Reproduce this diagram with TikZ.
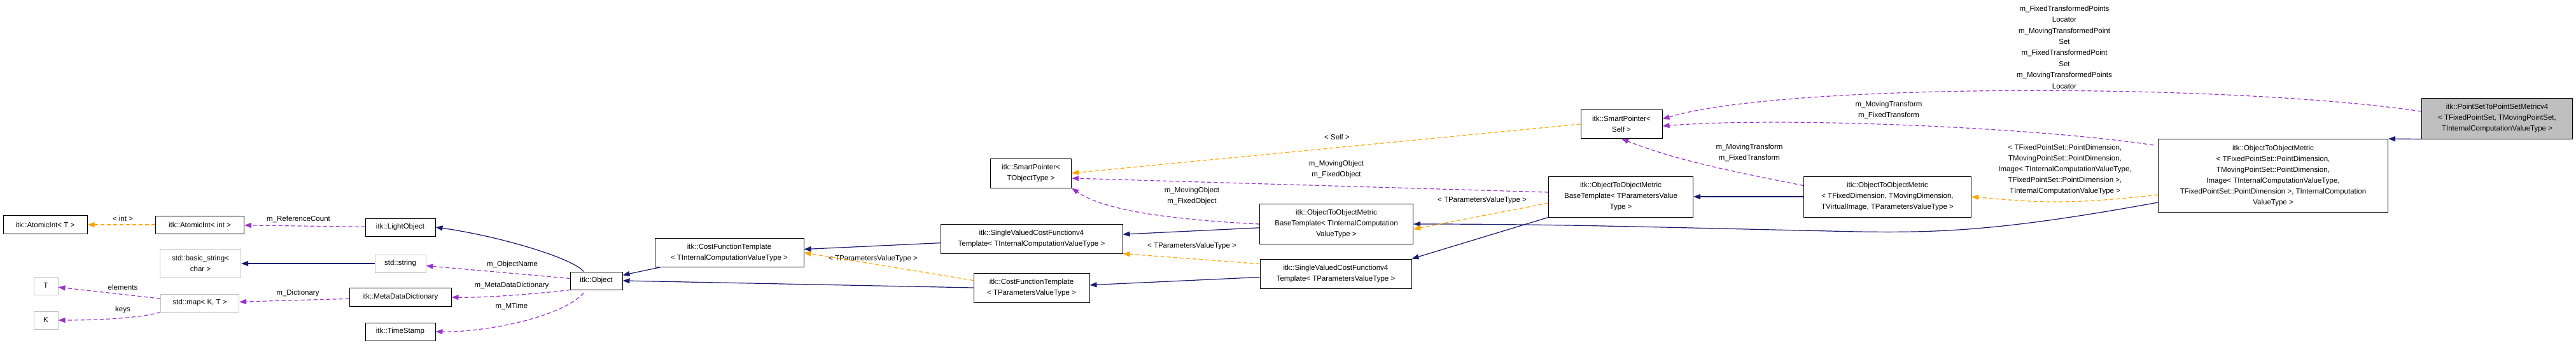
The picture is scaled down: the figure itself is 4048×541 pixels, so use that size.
\documentclass[tikz,border=0pt]{standalone}
\usepackage{fontspec}
\setmainfont{Liberation Sans}
\usetikzlibrary{arrows.meta}

\definecolor{inhcol}{HTML}{191970}
\definecolor{tplcol}{HTML}{FFA500}
\definecolor{usecol}{HTML}{9A32CD}
\definecolor{extcol}{HTML}{BFBFBF}

\tikzset{
  cls/.style={draw=black, line width=1pt, fill=white, align=center, inner sep=2pt},
  ext/.style={cls, draw=extcol},
  lbl/.style={align=center, inner sep=0pt},
  inh/.style={-{Triangle[width=8pt,length=11pt,fill=inhcol]}, draw=inhcol, line width=1.2pt},
  tpl/.style={-{Triangle[width=8pt,length=11pt,fill=tplcol]}, draw=tplcol, line width=1.2pt, dash pattern=on 6pt off 4pt},
  use/.style={-{Triangle[width=8pt,length=11pt,fill=usecol]}, draw=usecol, line width=1.2pt, dash pattern=on 6pt off 4pt},
}

\begin{document}
\begin{tikzpicture}[x=1pt, y=-1pt, font=\fontsize{11.5}{17}\selectfont]
    \useasboundingbox (0,0) rectangle (4048,541);

    % left part
    \node[cls, minimum width=132, minimum height=29] (atomT) at (71,353) {itk::AtomicInt< T >};
    \node[cls, minimum width=139, minimum height=28] (atomInt) at (314,353) {itk::AtomicInt< int >};
    \node[cls, minimum width=110, minimum height=28] (light) at (629,357) {itk::LightObject};
    \node[ext, minimum width=127, minimum height=45] (bstr) at (315,414) {std::basic\_string<\\char >};
    \node[ext, minimum width=80, minimum height=28] (str) at (629,414) {std::string};
    \node[ext, minimum width=38, minimum height=28] (T) at (72,449) {T};
    \node[ext, minimum width=38, minimum height=28] (K) at (72,503) {K};
    \node[ext, minimum width=123, minimum height=28] (map) at (314,476) {std::map< K, T >};
    \node[cls, minimum width=160, minimum height=29] (mdd) at (629,467) {itk::MetaDataDictionary};
    \node[cls, minimum width=110, minimum height=28] (stamp) at (629,521) {itk::TimeStamp};
    \node[cls, minimum width=82, minimum height=28] (obj) at (937,441) {itk::Object};

    % cost functions
    \node[cls, minimum width=234, minimum height=45] (cftInt) at (1146,397) {itk::CostFunctionTemplate\\< TInternalComputationValueType >};
    \node[cls, minimum width=286, minimum height=46] (svcfInt) at (1621,375) {itk::SingleValuedCostFunctionv4\\Template< TInternalComputationValueType >};
    \node[cls, minimum width=182, minimum height=46] (cftPar) at (1621,452) {itk::CostFunctionTemplate\\< TParametersValueType >};
    \node[cls, minimum width=127, minimum height=46] (spObj) at (1620,272) {itk::SmartPointer<\\TObjectType >};
    \node[cls, minimum width=241, minimum height=63] (baseInt) at (2100,352) {itk::ObjectToObjectMetric\\BaseTemplate< TInternalComputation\\ValueType >};
    \node[cls, minimum width=238, minimum height=46] (svcfPar) at (2099,430) {itk::SingleValuedCostFunctionv4\\Template< TParametersValueType >};
    \node[cls, minimum width=227, minimum height=64] (basePar) at (2547,309) {itk::ObjectToObjectMetric\\BaseTemplate< TParametersValue\\Type >};
    \node[cls, minimum width=128, minimum height=45] (spSelf) at (2548,195) {itk::SmartPointer<\\Self >};
    \node[cls, minimum width=263, minimum height=64] (otomDim) at (2966,309) {itk::ObjectToObjectMetric\\< TFixedDimension, TMovingDimension,\\TVirtualImage, TParametersValueType >};
    \node[cls, minimum width=361, minimum height=115] (otomPts) at (3572,276) {itk::ObjectToObjectMetric\\< TFixedPointSet::PointDimension,\\TMovingPointSet::PointDimension,\\Image< TInternalComputationValueType,\\TFixedPointSet::PointDimension >, TInternalComputation\\ValueType >};
    \node[cls, fill=extcol, minimum width=237, minimum height=64] (psMetric) at (3924,186) {itk::PointSetToPointSetMetricv4\\< TFixedPointSet, TMovingPointSet,\\TInternalComputationValueType >};

    % labels
    \node[lbl] (lInt) at (193,343) {< int >};
    \node[lbl] (lRef) at (469,344) {m\_ReferenceCount};
    \node[lbl] (lElem) at (193,451) {elements};
    \node[lbl] (lKeys) at (193,487) {keys};
    \node[lbl] (lDict) at (468,461) {m\_Dictionary};
    \node[lbl] (lName) at (805,416) {m\_ObjectName};
    \node[lbl] (lMdd) at (804,449) {m\_MetaDataDictionary};
    \node[lbl] (lTime) at (804,481) {m\_MTime};
    \node[lbl] (lParA) at (1372,407) {< TParametersValueType >};
    \node[lbl] (lParB) at (1873,387) {< TParametersValueType >};
    \node[lbl] (lParC) at (2329,315) {< TParametersValueType >};
    \node[lbl] (lSelf) at (2101,215) {< Self >};
    \node[lbl] (lObjA) at (2100,266) {m\_MovingObject\\m\_FixedObject};
    \node[lbl] (lObjB) at (1873,308) {m\_MovingObject\\m\_FixedObject};
    \node[lbl] (lTrA) at (2968,173) {m\_MovingTransform\\m\_FixedTransform};
    \node[lbl] (lTrB) at (2749,240) {m\_MovingTransform\\m\_FixedTransform};
    \node[lbl, font=\fontsize{11.5}{17.4}\selectfont] (lPts) at (3244,74) {m\_FixedTransformedPoints\\Locator\\m\_MovingTransformedPoint\\Set\\m\_FixedTransformedPoint\\Set\\m\_MovingTransformedPoints\\Locator};
    \node[lbl] (lTpl) at (3245,267) {< TFixedPointSet::PointDimension,\\TMovingPointSet::PointDimension,\\Image< TInternalComputationValueType,\\TFixedPointSet::PointDimension >,\\TInternalComputationValueType >};

    % inheritance
    \draw[inh] (obj.north) ++(-20,0) coordinate (objTop) .. controls (900,405) and (780,370) .. (light.east);
    \draw[inh] (str) -- (bstr);
    \draw[inh] (cftInt) -- (obj);
    \draw[inh] (cftPar.west) -- (obj.east);
    \draw[inh] (svcfInt) -- (cftInt);
    \draw[inh] (svcfPar) -- (cftPar);
    \draw[inh] (baseInt) -- (svcfInt);
    \draw[inh] (basePar.south west) -- (svcfPar.north east);
    \draw[inh] (otomDim) -- (basePar);
    \draw[inh] (otomPts.west) ++(0,42) coordinate (ptsLow) .. controls (3150,362) and (3050,366) .. (2920,364) .. controls (2600,357) and (2450,352) .. (baseInt.east);
    \draw[inh] (psMetric.south west) -- (otomPts.north east);

    % template instances
    \draw[tpl] (atomInt) -- (atomT);
    \draw[tpl] (cftPar.north west) ++(0,12) coordinate (cftParIn) -- (cftInt.east);
    \draw[tpl] (spSelf.west) -- (spObj.east);
    \draw[tpl] (svcfPar.north west) ++(0,8) coordinate (svcfParIn) -- (svcfInt.south east);
    \draw[tpl] (basePar.west) ++(0,10) coordinate (baseParIn) -- ([yshift=-8pt]baseInt.east);
    \draw[tpl] (otomPts.west) ++(0,30) coordinate (ptsTpl) .. controls (3250,322) and (3200,318) .. (otomDim.east);

    % members
    \draw[use] (light) -- (atomInt);
    \draw[use] (obj) -- (str);
    \draw[use] (obj.south west) .. controls (840,462) and (760,468) .. (mdd.east);
    \draw[use] (obj.south) ++(-20,5) coordinate (objBot) .. controls (880,500) and (760,522) .. (stamp.east);
    \draw[use] (map) -- (T);
    \draw[use] (map.south west) .. controls (220,500) and (150,503) .. (K.east);
    \draw[use] (mdd) -- (map);
    \draw[use] (basePar.west) ++(0,-7) coordinate (baseParUse) -- ([yshift=-8pt]spObj.east);
    \draw[use] (baseInt.west) .. controls (1780,342) and (1720,320) .. (spObj.south east);
    \draw[use] (psMetric.west) ++(0,-11) coordinate (psUse) .. controls (3500,130) and (2800,130) .. ([yshift=8pt]spSelf.east);
    \draw[use] (otomPts.north west) ++(-7,10) coordinate (ptsUse) .. controls (3200,200) and (2800,183) .. ([yshift=-3pt]spSelf.east);
    \draw[use] (otomDim.north west) ++(0,15) coordinate (dimUse) .. controls (2700,265) and (2630,250) .. (spSelf.south);
\end{tikzpicture}
\end{document}
